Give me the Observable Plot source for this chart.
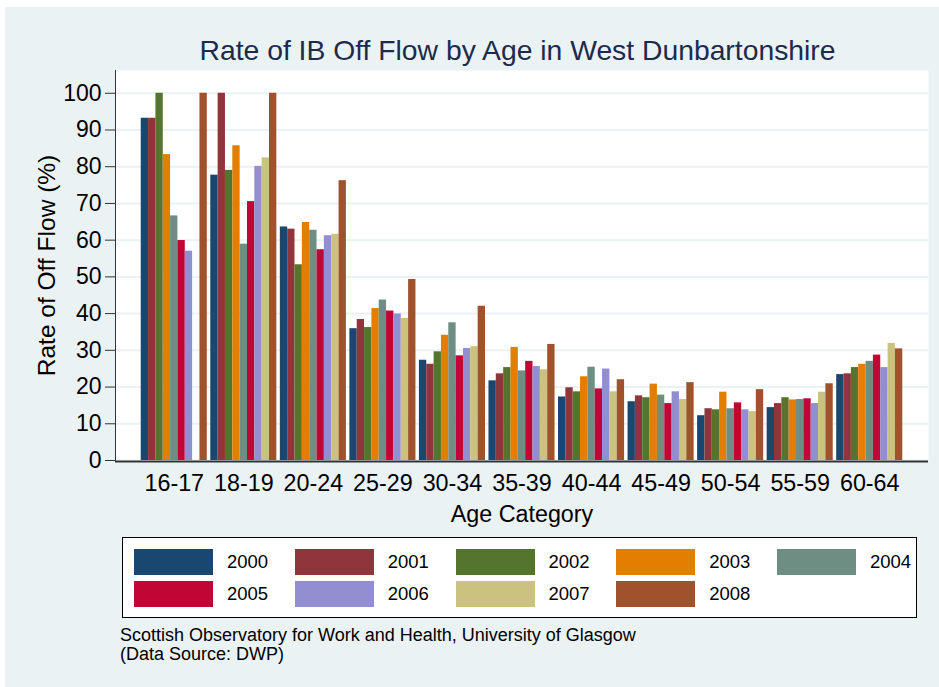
<!DOCTYPE html>
<html><head><meta charset="utf-8">
<script src="https://cdn.jsdelivr.net/npm/d3@7"></script>
<script src="https://cdn.jsdelivr.net/npm/@observablehq/plot@0.6"></script>
<style>
body{margin:0;background:#fff;font-family:"Liberation Sans",Arial,sans-serif;}
#wrap{position:relative;width:939px;height:687px;overflow:hidden;}
#panel{position:absolute;left:5px;top:7px;width:934px;height:680px;background:#eaf2f3;}
#title{position:absolute;left:0;top:35.5px;width:1035px;text-align:center;font-size:28.3px;line-height:28px;color:#1c2b4c;white-space:nowrap;}
.layer{position:absolute;left:5px;top:62px;}
#legend{position:absolute;left:122px;top:537px;width:793px;height:79px;background:#fff;border:1px solid #000;}
.item{position:absolute;height:26px;}
.sw{position:absolute;left:0;top:0;width:79px;height:26px;}
.lab{position:absolute;left:93px;top:0;line-height:26px;font-size:18.5px;color:#000;}
#caption{position:absolute;left:120px;top:626px;font-size:18px;line-height:19px;color:#000;white-space:nowrap;}
</style></head>
<body>
<div id="wrap">
  <div id="panel"></div>
  <div id="title">Rate of IB Off Flow by Age in West Dunbartonshire</div>
  <div id="bg" class="layer"></div>
  <div id="fg" class="layer"></div>
  <div id="legend"></div>
  <div id="caption">Scottish Observatory for Work and Health, University of Glasgow<br>(Data Source: DWP)</div>
</div>
<script>
const ages = ["16-17","18-19","20-24","25-29","30-34","35-39","40-44","45-49","50-54","55-59","60-64"];
const years = ["2000","2001","2002","2003","2004","2005","2006","2007","2008"];
const colors = ["#1a476f","#90353b","#55752f","#e37e00","#6e8e84","#c10534","#938dd2","#cac27e","#a0522d"];
const yTicks = [0,10,20,30,40,50,60,70,80,90,100];

const s2000 = [93.2, 77.7, 63.6, 35.9, 27.3, 21.7, 17.3, 16.0, 12.2, 14.4, 23.4];
const s2001 = [93.2, 100, 63.0, 38.4, 26.2, 23.6, 19.8, 17.6, 14.1, 15.5, 23.6];
const s2002 = [100, 79.0, 53.3, 36.2, 29.6, 25.3, 18.7, 17.1, 13.8, 17.1, 25.3];
const s2003 = [83.3, 85.7, 64.8, 41.4, 34.1, 30.8, 22.8, 20.8, 18.6, 16.5, 26.2];
const s2004 = [66.6, 58.9, 62.7, 43.7, 37.5, 24.4, 25.4, 17.8, 14.1, 16.6, 27.0];
const s2005 = [59.9, 70.5, 57.4, 40.7, 28.5, 27.0, 19.5, 15.5, 15.7, 16.8, 28.7];
const s2006 = [57.0, 80.1, 61.2, 39.9, 30.5, 25.6, 24.9, 18.7, 13.8, 15.5, 25.3];
const s2007 = [null, 82.4, 61.6, 38.7, 31.0, 24.7, 18.7, 16.6, 13.3, 18.6, 31.9];
const s2008 = [100, 100, 76.2, 49.3, 42.0, 31.6, 22.0, 21.2, 19.3, 20.9, 30.4];
const series = [s2000,s2001,s2002,s2003,s2004,s2005,s2006,s2007,s2008];

const data = [];
ages.forEach((a, i) => years.forEach((y, j) => {
  data.push({age: a, year: y, value: series[j][i]});
}));

const W = 934, H = 470;
const dims = {width: W, height: H, marginLeft: 110, marginRight: 11, marginTop: 8, marginBottom: 72};
const font = "Liberation Sans, Arial, sans-serif";
const yDomain = [0, 106.2];

const bg = Plot.plot({
  ...dims,
  style: {background: "transparent", fontFamily: font, fontSize: "23px", color: "#000", overflow: "visible"},
  y: {domain: yDomain, axis: null},
  marks: [
    Plot.frame({fill: "white", stroke: null}),
    Plot.gridY(yTicks, {stroke: "#eaf2f3", strokeOpacity: 1, strokeWidth: 2}),
    Plot.axisY(yTicks, {tickSize: 10, tickPadding: 4, fontSize: 23, stroke: "#333", label: null}),
    Plot.axisY({ticks: [], tickSize: 0, fontSize: 24.5,
      label: "Rate of Off Flow (%)", labelAnchor: "center", labelOffset: 78, labelArrow: "none"}),
    Plot.frame({anchor: "left", stroke: "#333"}),
    Plot.ruleY([0], {stroke: "#333", strokeWidth: 2, dy: 1})
  ]
});
document.getElementById("bg").appendChild(bg);

const fg = Plot.plot({
  ...dims,
  style: {background: "transparent", fontFamily: font, fontSize: "23px", color: "#000", overflow: "visible"},
  fx: {domain: ages, paddingInner: 0.05, paddingOuter: 0.37, round: false},
  x: {domain: years, padding: 0, round: false, axis: null},
  y: {domain: yDomain, axis: null},
  color: {domain: years, range: colors},
  marks: [
    Plot.barY(data.filter(d => d.value != null), {fx: "age", x: "year", y: "value", fill: "year"}),
    Plot.axisFx({anchor: "bottom", tickSize: 0, tickPadding: 14, fontSize: 23.3,
      label: "Age Category", labelAnchor: "center", labelOffset: 61, labelArrow: "none"})
  ]
});
document.getElementById("fg").appendChild(fg);

const legend = document.getElementById("legend");
years.forEach((y, j) => {
  const row = Math.floor(j / 5), col = j % 5;
  const it = document.createElement("div");
  it.className = "item";
  it.style.left = (11 + col * 160.75) + "px";
  it.style.top = (11 + row * 32) + "px";
  it.innerHTML = `<div class="sw" style="background:${colors[j]}"></div><div class="lab">${y}</div>`;
  legend.appendChild(it);
});
</script>
</body></html>
